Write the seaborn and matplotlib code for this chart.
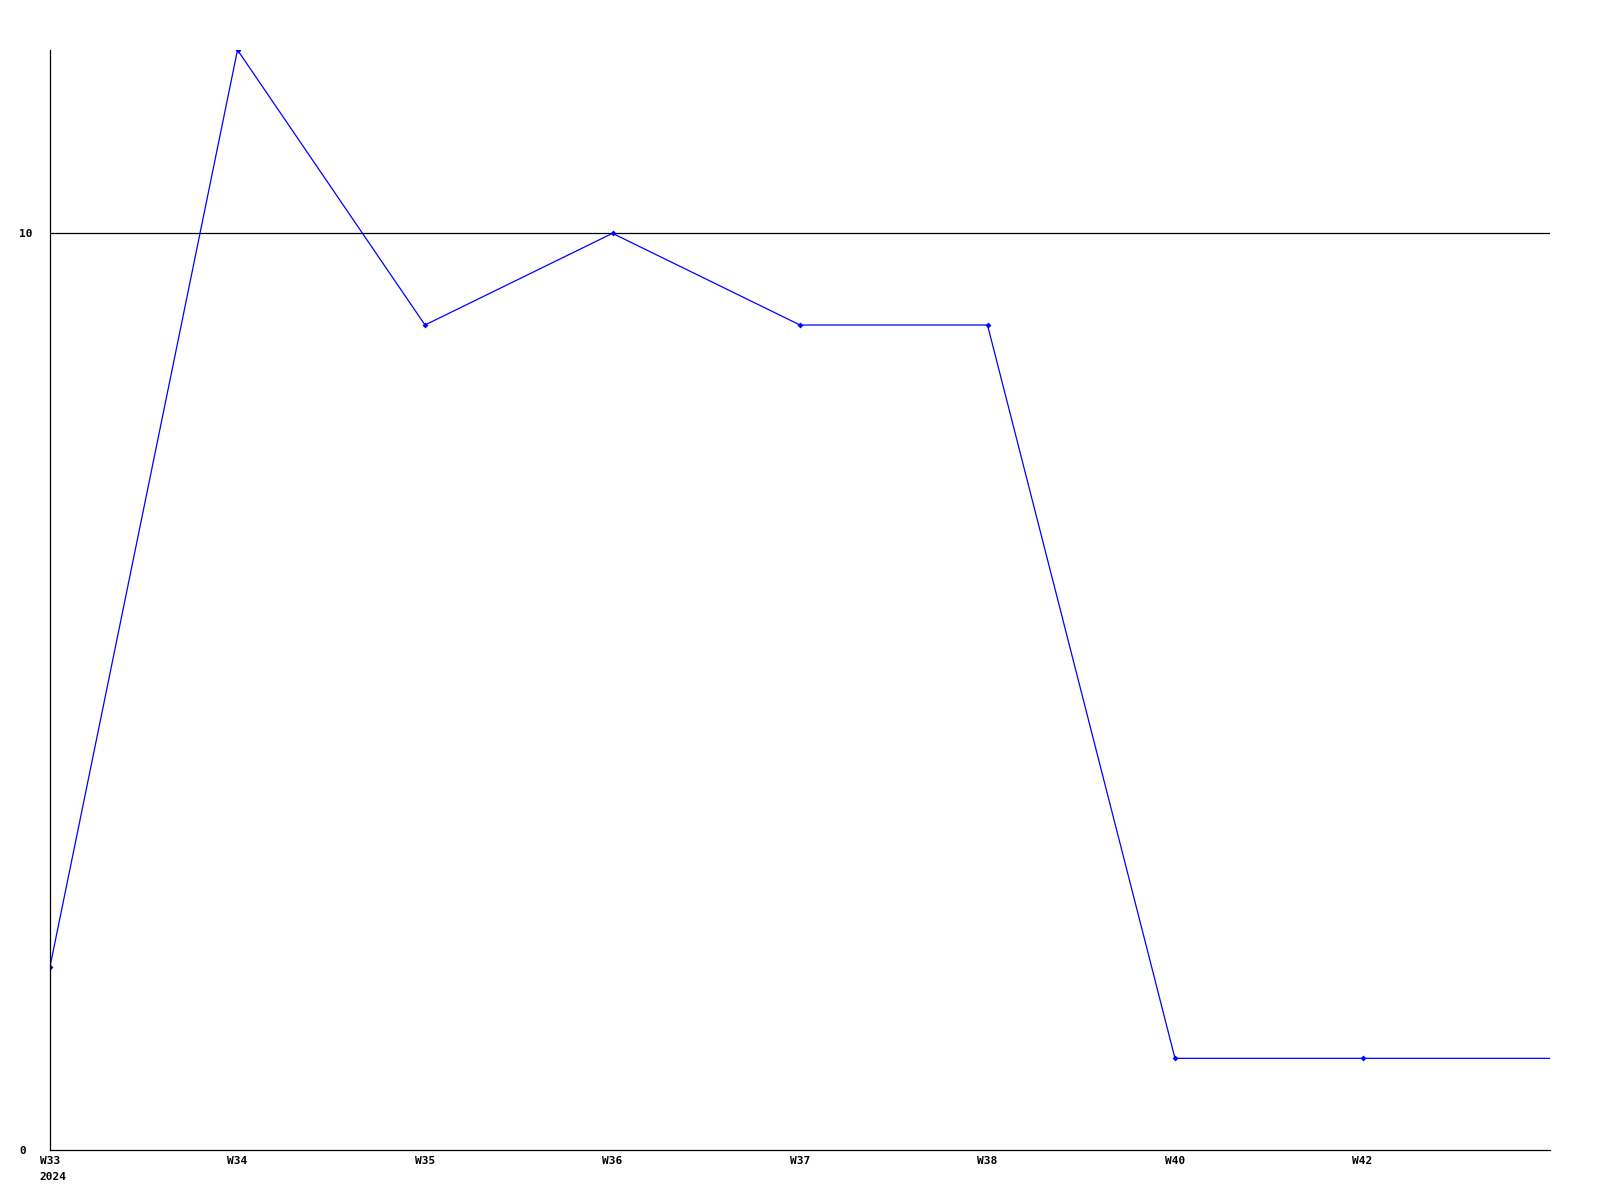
import pandas as pd
import matplotlib
matplotlib.use("Agg")
import matplotlib.pyplot as plt
import seaborn as sns

# weekly values, last point has no label (line runs to the right edge)
weeks = ["W33", "W34", "W35", "W36", "W37", "W38", "W40", "W42", ""]
values = [2, 12, 9, 10, 9, 9, 1, 1, 1]
year_label = "2024"
y_ticks = [0, 10]

df = pd.DataFrame({"pos": range(len(weeks)), "week": weeks, "value": values})

sns.set_style("white")
plt.rcParams["font.family"] = ["DejaVu Sans Mono"]
plt.rcParams["font.weight"] = "bold"
plt.rcParams["text.color"] = "black"
plt.rcParams["xtick.color"] = "black"
plt.rcParams["ytick.color"] = "black"

fig = plt.figure(figsize=(16, 12), dpi=100)
ax = fig.add_axes([50 / 1600, 50 / 1200, 1500 / 1600, 1100 / 1200])

sns.lineplot(data=df, x="pos", y="value", ax=ax, color="#0000ff",
             linewidth=0.9, marker="D", markersize=3, markeredgewidth=0,
             markevery=list(range(len(weeks) - 1)), sort=False)

ax.set_xlim(0, len(weeks) - 1)
ax.set_ylim(0, 12)
ax.axhline(10, color="black", linewidth=0.9, zorder=1)

ax.set_xticks(df["pos"][:-1])
ax.set_xticklabels(weeks[:-1], fontsize=8, fontweight="bold", color="black")
ax.set_yticks(y_ticks)
ax.set_yticklabels([str(t) for t in y_ticks], fontsize=8, fontweight="bold",
                   color="black", ha="left")
ax.tick_params(axis="both", length=0)
ax.tick_params(axis="x", pad=4)
ax.tick_params(axis="y", pad=22)

ax.annotate(year_label, xy=(0, 0), xycoords=("data", "axes fraction"),
            xytext=(-7.5, -16), textcoords="offset points",
            ha="left", va="top", fontsize=8, fontweight="bold", color="black")

ax.set_xlabel("")
ax.set_ylabel("")
for side in ["top", "right"]:
    ax.spines[side].set_visible(False)
for side in ["left", "bottom"]:
    ax.spines[side].set_color("black")
    ax.spines[side].set_linewidth(0.9)

fig.savefig("out.png", dpi=100, facecolor="white")
